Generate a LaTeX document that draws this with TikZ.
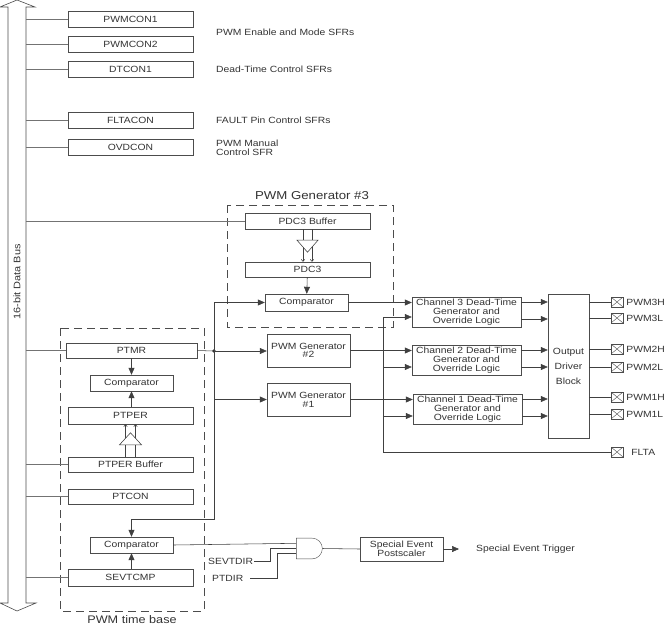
\documentclass[tikz,border=0pt]{standalone}
\usepackage{fontspec}
\setmainfont{Liberation Sans}[FakeStretch=1.15]
\usetikzlibrary{arrows.meta,calc,shapes.gates.logic.US}

\tikzset{
  boxfont/.style={font=\fontsize{9}{8.7}\selectfont, text=black!80},
  reg/.style={draw=black!70, fill=white, inner sep=0pt, minimum width=125pt, minimum height=16pt, boxfont},
  cmp/.style={reg, minimum width=83pt},
  chan/.style={reg, minimum width=109pt, minimum height=30pt, align=center},
  pad/.style={draw=black!70, minimum width=12pt, minimum height=10pt, inner sep=0pt,
    path picture={\draw[black!70] (path picture bounding box.south west) -- (path picture bounding box.north east)
      (path picture bounding box.north west) -- (path picture bounding box.south east);}},
  lbl/.style={anchor=west, inner sep=1pt, boxfont},
  wire/.style={draw=black!75, line width=0.55pt},
  buswire/.style={draw=black!55, line width=0.5pt},
  arr/.style={wire, -{Triangle[length=7pt,width=6pt]}},
  barb/.style={wire, -{Straight Barb[length=2pt,width=3.5pt]}},
  grp/.style={draw=black!70, line width=0.6pt, dash pattern=on 8pt off 5pt},
}

\begin{document}
\begin{tikzpicture}[x=1pt,y=-1pt]
  \useasboundingbox (0,0) rectangle (668,629);

  % data bus
  \draw[draw=black!70, line width=0.6pt] (8,603) -- (8,7) -- (0,7) -- (17,0) -- (35,7) -- (26,7)
    -- (26,603) -- (36,603) -- (17,611) -- (0,603) -- cycle;
  \coordinate (busr) at (26,0);
  \node[rotate=90, font=\fontsize{9.5}{9.5}\selectfont, text=black!80] (buslbl) at (17,282) {16-bit Data Bus};

  % SFRs
  \node[reg] (pwmcon1) at (130.5,19) {PWMCON1};
  \node[reg] (pwmcon2) at (130.5,44) {PWMCON2};
  \node[reg] (dtcon1) at (130.5,69) {DTCON1};
  \node[reg] (fltacon) at (130.5,120.5) {FLTACON};
  \node[reg] (ovdcon) at (130.5,147.5) {OVDCON};

  \node[lbl] (modelbl) at (215,32) {PWM Enable and Mode SFRs};
  \node[lbl] (dtlbl) at (215,69) {Dead-Time Control SFRs};
  \node[lbl] (faultlbl) at (215,120) {FAULT Pin Control SFRs};
  \node[lbl, align=left] (ovdlbl) at (215,148) {PWM Manual\\Control SFR};

  % PWM generator #3
  \draw[grp] (227,205) rectangle (393,327);
  \node[font=\fontsize{11.5}{12}\selectfont, text=black!80] (g3title) at (312,196) {PWM Generator \#3};
  \node[reg] (pdcbuf) at (307.5,221) {PDC3 Buffer};
  \node[reg, minimum height=15pt] (pdc3) at (307.5,269.5) {PDC3};
  \node[cmp, minimum height=17pt] (cmpthree) at (306.5,302.5) {Comparator};

  \foreach \dx in {-4.5,4.5}
    \draw[barb] ($(pdcbuf.south)+(\dx,0)$) -- ($(pdc3.north)+(\dx,0)$);
  \draw[wire, fill=white] ($(pdcbuf.south)+(-10.5,11)$) -- ++(21,0) -- ($(pdcbuf.south)+(0,23)$) -- cycle;
  \draw[arr] (pdc3) -- (cmpthree);

  % PWM generators #2 and #1
  \node[cmp, minimum height=33pt, align=center] (gen2) at (308.5,350.5) {PWM Generator\\\#2};
  \node[cmp, minimum height=33pt, align=center] (gen1) at (308.5,399.5) {PWM Generator\\\#1};

  % dead-time channels
  \node[chan] (ch3) at (466.5,312) {Channel 3 Dead-Time\\Generator and\\Override Logic};
  \node[chan] (ch2) at (466.5,360) {Channel 2 Dead-Time\\Generator and\\Override Logic};
  \node[chan] (ch1) at (467.5,409) {Channel 1 Dead-Time\\Generator and\\Override Logic};

  \draw[arr] (cmpthree.east) -- (cmpthree.east -| ch3.west);
  \draw[arr] (gen2.east) -- (gen2.east -| ch2.west);
  \draw[arr] (gen1.east) -- (gen1.east -| ch1.west);

  % output driver
  \node[reg, minimum width=41pt, minimum height=144pt, align=center,
    font=\fontsize{9}{15}\selectfont] (drv) at (568.5,366) {Output\\Driver\\Block};
  \foreach \c in {ch3,ch2,ch1}
    \foreach \d in {10,-7}
      \draw[arr] ($(\c.east)+(0,-\d)$) coordinate (o) -- (o -| drv.west);

  \foreach \n/\y in {3H/302,3L/318,2H/349,2L/367,1H/397,1L/414} {
    \node[pad] (p\n) at (617,\y) {};
    \node[lbl] at ([xshift=2pt]p\n.east) {PWM\n};
    \draw[wire] (p\n.west -| drv.east) -- (p\n.west);
  }

  % fault input
  \node[pad] (flta) at (617,452) {};
  \node[lbl] (fltalbl) at ([xshift=7pt]flta.east) {FLTA};
  \coordinate (c3lo) at ([yshift=-5pt]ch3.west);
  \coordinate (c2lo) at ([yshift=-7pt]ch2.west);
  \coordinate (c1lo) at ([yshift=-7pt]ch1.west);
  \coordinate (fv) at ($(c3lo)+(-29,0)$);
  \draw[arr] (flta.west) -| (fv) -- (c3lo);
  \draw[arr] (fv |- c2lo) -- (c2lo);
  \draw[arr] (fv |- c1lo) -- (c1lo);

  % PWM time base
  \draw[grp] (60,328) rectangle (204,611);
  \node[font=\fontsize{11}{11}\selectfont, text=black!80] (tblbl) at (132,620) {PWM time base};
  \node[reg, minimum width=131pt, minimum height=15pt] (ptmr) at (131.5,350.5) {PTMR};
  \node[cmp] (cmptop) at (131.5,383) {Comparator};
  \node[reg, minimum height=17pt] (ptper) at (130.5,415.5) {PTPER};
  \node[reg, minimum height=15pt] (ptperbuf) at (130.5,464.5) {PTPER Buffer};
  \node[reg, minimum height=15pt] (ptcon) at (130.5,496.5) {PTCON};
  \node[cmp] (cmpbot) at (131.5,545) {Comparator};
  \node[reg, minimum height=17pt] (sevtcmp) at (130.5,577.5) {SEVTCMP};

  \draw[arr] (ptmr.south -| cmptop) -- (cmptop.north);
  \draw[arr] (ptper.north -| cmptop) -- (cmptop.south);
  \draw[arr] (sevtcmp.north -| cmpbot) -- (cmpbot.south);
  \foreach \dx in {-5,5}
    \draw[barb] ($(ptperbuf.north)+(\dx,0)$) -- ($(ptper.south)+(\dx,0)$);
  \draw[wire, fill=white] ($(ptperbuf.north)+(-11,-12)$) -- ++(22,0) -- ($(ptperbuf.north)+(0,-24)$) -- cycle;

  % bus taps
  \foreach \r in {pwmcon1,pwmcon2,dtcon1,fltacon,ovdcon,pdcbuf,ptmr,ptperbuf,ptcon,sevtcmp}
    \draw[buswire] (busr |- \r.west) -- (\r.west);

  % timer net
  \coordinate (tj) at (214,351);
  \draw[wire] (ptmr.east) -- (tj);
  \fill[black!80] (tj) circle (1.8pt);
  \draw[arr] (tj) -- (tj -| gen2.west);
  \draw[arr] (tj) |- (cmpthree.west);
  \draw[arr] (tj) |- (gen1.west);
  \draw[arr] (tj) |- ($(cmpbot.north)+(0,-18)$) -- (cmpbot.north);

  % special event
  \node[and gate US, draw=black!70, logic gate inputs=nnn, logic gate input sep=3.5pt,
    minimum height=17pt, minimum width=26pt, inner sep=0pt] (andg) at (308.5,548.5) {};
  \node[lbl] (sevtdir) at (207,561) {SEVTDIR};
  \node[lbl] (ptdir) at (211,578) {PTDIR};
  \draw[wire] (cmpbot.east) -- (andg.input 1);
  \draw[wire] (sevtdir.east) -| ($(andg.input 2)+(-26,0)$) -- (andg.input 2);
  \draw[wire] ([xshift=6pt]ptdir.east) -| ($(andg.input 3)+(-19,0)$) -- (andg.input 3);
  \node[cmp, minimum height=24pt, align=center] (post) at (401.5,549) {Special Event\\Postscaler};
  \draw[wire] (andg.output) -- (post.west);
  \coordinate (trig) at (459,549);
  \draw[arr] (post.east) -- (trig);
  \node[lbl] (triglbl) at (475,549) {Special Event Trigger};
\end{tikzpicture}
\end{document}
